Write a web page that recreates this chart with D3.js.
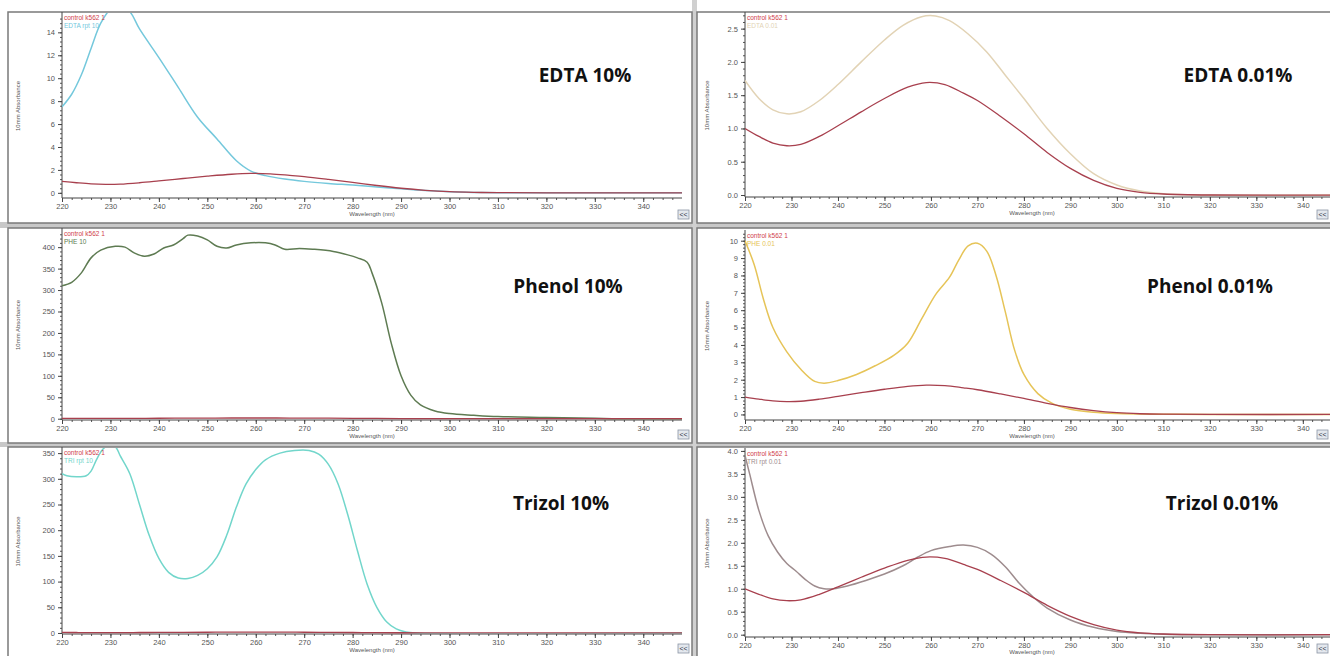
<!DOCTYPE html>
<html>
<head>
<meta charset="utf-8">
<script src="https://cdn.jsdelivr.net/npm/d3@7"></script>
<style>
  body { margin: 0; background: #fff; }
  svg { display: block; font-family: "Liberation Sans", Arial, sans-serif; }
</style>
</head>
<body>
<svg id="chart" width="1330" height="656"></svg>
<script>
// ---- data (wavelength nm, absorbance) ----
const control = [[220,1.0],[223,0.88],[226,0.78],[229,0.74],[232,0.76],[236,0.88],[240,1.04],[245,1.25],[250,1.45],[255,1.62],[259,1.69],[263,1.66],[267,1.53],[270,1.42],[275,1.18],[280,0.92],[285,0.64],[290,0.4],[295,0.22],[300,0.1],[305,0.04],[310,0.015],[320,0],[348,0]];
const edta10 = [[220,7.5],[222,8.6],[224,10.3],[226,12.6],[228,14.8],[230,16.0],[232,16.3],[234,15.8],[236,14.3],[240,11.8],[244,9.2],[248,6.6],[252,4.7],[256,2.8],[259,1.9],[262,1.5],[266,1.2],[270,1.0],[275,0.82],[280,0.68],[285,0.52],[290,0.35],[295,0.2],[300,0.1],[305,0.04],[310,0.01],[320,0],[348,0]];
const edta001 = [[220,1.72],[223,1.45],[226,1.28],[229,1.22],[232,1.25],[236,1.42],[240,1.66],[245,2.0],[250,2.33],[254,2.55],[258,2.68],[261,2.69],[264,2.62],[268,2.42],[272,2.15],[276,1.8],[280,1.45],[285,1.0],[290,0.62],[295,0.32],[300,0.15],[305,0.06],[310,0.02],[320,0],[348,0]];
const phe10 = [[220,310],[222,318],[224,340],[226,375],[228,393],[231,402],[233,400],[235,386],[237,379],[239,384],[241,398],[243,405],[245,420],[246,428],[248,426],[250,417],[252,402],[254,398],[256,405],[259,410],[262,410],[264,405],[266,395],[269,397],[272,395],[276,390],[279,382],[281,375],[283,365],[284,340],[286,270],[288,175],[290,100],[292,55],[294,32],[297,18],[300,12],[305,8],[310,5],[320,3],[330,1],[335,0],[348,0]];
const phe001 = [[220,10.0],[222,8.6],[224,6.6],[226,5.0],[229,3.6],[232,2.6],[235,1.9],[237,1.8],[240,1.95],[244,2.3],[248,2.8],[252,3.4],[255,4.1],[258,5.5],[261,6.9],[264,7.9],[266,8.9],[268,9.7],[270,9.85],[272,9.4],[274,8.0],[276,5.9],[278,3.7],[280,2.3],[283,1.2],[286,0.65],[290,0.3],[295,0.12],[300,0.05],[310,0.01],[320,0],[348,0]];
const tri10 = [[220,310],[221,306],[223,304],[225,306],[226,315],[227,335],[228,352],[229,362],[231,362],[232,345],[234,310],[236,250],[238,190],[240,145],[242,118],[244,107],[246,106],[248,112],[250,125],[252,148],[254,190],[256,245],[258,290],[260,318],[262,337],[265,350],[268,355],[271,355],[273,348],[275,328],[277,290],[279,230],[281,160],[283,95],[285,50],[287,22],[289,8],[291,2],[293,0],[348,0]];
const tri001 = [[220,3.9],[221,3.5],[223,2.7],[225,2.15],[227,1.8],[229,1.55],[231,1.38],[233,1.2],[235,1.06],[237,1.0],[239,1.0],[242,1.06],[246,1.18],[250,1.32],[254,1.5],[257,1.68],[260,1.83],[264,1.92],[267,1.95],[270,1.9],[273,1.75],[276,1.48],[279,1.12],[282,0.82],[285,0.58],[290,0.32],[295,0.16],[300,0.07],[305,0.03],[310,0.01],[320,0],[348,0]];

const titles = ["EDTA 10%", "EDTA 0.01%", "Phenol 10%", "Phenol 0.01%", "Trizol 10%", "Trizol 0.01%"];
const sampleNames = ["EDTA rpt 10", "EDTA 0.01", "PHE 10", "PHE 0.01", "TRI rpt 10", "TRI rpt 0.01"];
const samples = [edta10, edta001, phe10, phe001, tri10, tri001];
const sampleColors = ["#74c8dc", "#e2d3b5", "#5e7b52", "#e6c458", "#72d6cb", "#9e8c8e"];
const yTicks = [d3.range(0, 15, 2), d3.range(0, 2.6, 0.5), d3.range(0, 401, 50), d3.range(0, 11, 1), d3.range(0, 351, 50), d3.range(0, 4.01, 0.5)];
const yDomains = [[-0.45, 15.6], [-0.03, 2.72], [-3, 440], [-0.32, 10.5], [-2, 358], [-0.05, 4.02]];
const xTicks = d3.range(220, 341, 10);

// ---- layout of the six screenshots ----
const frames = [
  { x: 8, y: 12, w: 684, h: 211, left: 62, right: 682, top: 14, bottom: 198 },
  { x: 697, y: 12, w: 640, h: 211, left: 745, right: 1340, top: 14, bottom: 197 },
  { x: 8, y: 228, w: 684, h: 215, left: 62, right: 682, top: 230, bottom: 420 },
  { x: 697, y: 228, w: 640, h: 215, left: 745, right: 1340, top: 232, bottom: 420 },
  { x: 8, y: 447, w: 684, h: 215, left: 62, right: 682, top: 449, bottom: 634 },
  { x: 697, y: 447, w: 640, h: 215, left: 745, right: 1340, top: 450, bottom: 637 }
];
const titlePos = [[585, 77], [1238, 77], [568, 288], [1210, 288], [561, 505], [1222, 505]];

const svg = d3.select("#chart");

// gray bands between the screenshots
svg.append("rect").attr("x", 0).attr("y", 222).attr("width", 1330).attr("height", 6).attr("fill", "#c8c8c8");
svg.append("rect").attr("x", 0).attr("y", 442).attr("width", 1330).attr("height", 5).attr("fill", "#c8c8c8");
svg.append("rect").attr("x", 692).attr("y", 0).attr("width", 5).attr("height", 656).attr("fill", "#d0d0d0");

frames.forEach((f, i) => {
  const g = svg.append("g");
  g.append("rect")
    .attr("x", f.x).attr("y", f.y).attr("width", f.w).attr("height", f.h)
    .attr("fill", "#fff").attr("stroke", "#7a7a7a").attr("stroke-width", 1.5);

  const x = d3.scaleLinear().domain([220, 348]).range([f.left, f.right]);
  const y = d3.scaleLinear().domain(yDomains[i]).range([f.bottom, f.top]);

  const clipId = "clip" + i;
  g.append("clipPath").attr("id", clipId)
    .append("rect").attr("x", f.left).attr("y", f.top - 1)
    .attr("width", f.right - f.left).attr("height", f.bottom - f.top + 1);

  // minor ticks
  const yStep = yTicks[i][1] - yTicks[i][0];
  const yMinor = d3.range(0, yDomains[i][1], yStep / 5);
  g.append("g").attr("transform", `translate(${f.left},0)`)
    .call(d3.axisLeft(y).tickValues(yMinor).tickSize(2).tickFormat(""))
    .call((a) => a.select(".domain").remove())
    .selectAll("line").attr("stroke", "#555");
  g.append("g").attr("transform", `translate(0,${f.bottom})`)
    .call(d3.axisBottom(x).tickValues(d3.range(220, 348, 2)).tickSize(2).tickFormat(""))
    .call((a) => a.select(".domain").remove())
    .selectAll("line").attr("stroke", "#555");

  // major axes
  const yFmt = i === 1 || i === 5 ? d3.format(".1f") : d3.format("d");
  const yAxis = g.append("g").attr("transform", `translate(${f.left},0)`)
    .call(d3.axisLeft(y).tickValues(yTicks[i]).tickSize(4).tickPadding(3).tickFormat(yFmt));
  yAxis.select(".domain").attr("d", `M0,${f.top - 2}V${f.bottom}`).attr("stroke", "#444");
  yAxis.selectAll("text").attr("font-size", 7.5).attr("fill", "#555");
  yAxis.selectAll(".tick line").attr("stroke", "#444");

  const xAxis = g.append("g").attr("transform", `translate(0,${f.bottom})`)
    .call(d3.axisBottom(x).tickValues(xTicks).tickSize(4).tickPadding(2));
  xAxis.select(".domain").attr("d", `M${f.left},0H${f.right}`).attr("stroke", "#444");
  xAxis.selectAll("text").attr("font-size", 7.5).attr("fill", "#555");
  xAxis.selectAll(".tick line").attr("stroke", "#444");

  g.append("text")
    .attr("x", i % 2 ? 1032 : 372)
    .attr("y", Math.min(f.bottom + 18, 654))
    .attr("text-anchor", "middle").attr("font-size", 6).attr("fill", "#555")
    .text("Wavelength (nm)");

  g.append("text")
    .attr("transform", `translate(${f.x + 12},${(f.top + f.bottom) / 2}) rotate(-90)`)
    .attr("text-anchor", "middle").attr("font-size", 6).attr("fill", "#555")
    .text("10mm Absorbance");

  // curves, control drawn last so it shows on the flat tails
  const line = d3.line()
    .x((d) => x(d[0]))
    .y((d) => y(d[1]))
    .curve(d3.curveCatmullRom.alpha(0.5));
  const plot = g.append("g").attr("clip-path", `url(#${clipId})`);
  plot.append("path").datum(samples[i]).attr("d", line)
    .attr("fill", "none").attr("stroke", sampleColors[i]).attr("stroke-width", 1.5);
  plot.append("path").datum(control).attr("d", line)
    .attr("fill", "none").attr("stroke", "#a8404e").attr("stroke-width", 1.3);

  // legend
  g.append("text").attr("x", f.left + 2).attr("y", f.top + 6)
    .attr("font-size", 6.5).attr("fill", "#d0404a").text("control k562 1");
  g.append("text").attr("x", f.left + 2).attr("y", f.top + 14)
    .attr("font-size", 6.5).attr("fill", sampleColors[i]).text(sampleNames[i]);

  // big title
  g.append("text").attr("x", titlePos[i][0]).attr("y", titlePos[i][1])
    .attr("text-anchor", "middle").attr("dominant-baseline", "middle")
    .attr("font-family", "'Open Sans', sans-serif").attr("font-weight", 700)
    .attr("font-size", 19).attr("fill", "#111").text(titles[i]);

  // small "<<" button
  const bx = i % 2 ? 1317 : 678;
  const by = Math.min(f.y + f.h - 13, 644);
  g.append("rect").attr("x", bx).attr("y", by).attr("width", 11).attr("height", 9)
    .attr("fill", "#e4e8ee").attr("stroke", "#8a94a4").attr("stroke-width", 0.8);
  g.append("text").attr("x", bx + 5.5).attr("y", by + 7).attr("text-anchor", "middle")
    .attr("font-size", 7).attr("fill", "#334").text("<<");
});
</script>
</body>
</html>
